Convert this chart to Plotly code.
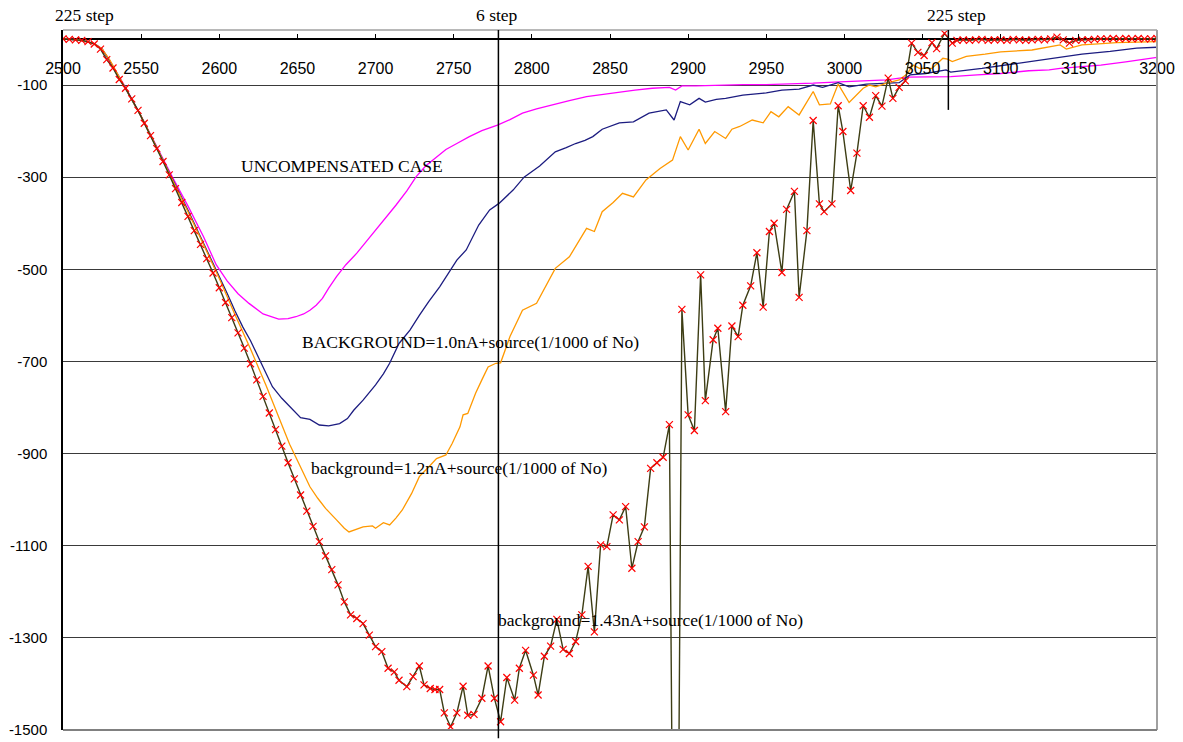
import plotly.graph_objects as go

# ---------------- data ----------------
# UNCOMPENSATED CASE (magenta)
uncomp_x = [2500, 2510, 2520, 2525, 2530, 2540, 2550, 2560, 2570, 2580, 2590, 2598, 2605, 2612,
            2619, 2628, 2638, 2644, 2649, 2654, 2658, 2662, 2666, 2670, 2675, 2681, 2688, 2694,
            2700, 2707, 2713, 2720, 2726, 2732, 2739, 2745, 2752, 2760, 2768, 2778, 2786, 2794,
            2803, 2813, 2824, 2835, 2845, 2856, 2866, 2877, 2888, 2892, 2896, 2905, 2920, 2935,
            2950, 2965, 2980, 2997, 3010, 3027, 3040, 3055, 3068, 3085, 3100, 3118, 3131, 3138,
            3152, 3164, 3180, 3190, 3200]
uncomp_y = [0, -2, -10, -22, -48, -105, -168, -235, -300, -363, -430, -490, -525, -553,
            -574, -597, -608, -607, -603, -597, -589, -578, -563, -541, -516, -490, -465, -440,
            -415, -388, -361, -330, -299, -276, -256, -240, -227, -212, -199, -187, -175, -161,
            -152, -143, -134, -125, -120, -115, -111, -107, -105, -111, -102, -102, -100, -99,
            -99, -98, -96, -93, -91, -89, -83, -82, -82, -78, -75, -69, -67, -64,
            -60, -57, -50, -45, -40]

# BACKGROUND=1.0nA (navy)
bg10_x = [2500, 2510, 2520, 2525, 2530, 2540, 2550, 2560, 2570, 2580, 2590, 2598, 2605, 2610,
          2615, 2620, 2626, 2630, 2634, 2640, 2645, 2652, 2658, 2664, 2670, 2677, 2682, 2686,
          2692, 2696, 2700, 2705, 2709, 2715, 2722, 2728, 2734, 2741, 2748, 2752, 2758, 2766,
          2773, 2779, 2788, 2795, 2805, 2815, 2822, 2828, 2834, 2839, 2845, 2850, 2856, 2865,
          2870, 2875, 2886, 2891, 2895, 2901, 2907, 2911, 2918, 2924, 2935, 2950, 2960, 2971,
          2980, 2986, 2996, 3003, 3014, 3027, 3035, 3042, 3052, 3065, 3068, 3088, 3105, 3120,
          3130, 3140, 3152, 3170, 3187, 3200]
bg10_y = [0, -2, -10, -22, -48, -107, -168, -236, -303, -372, -444, -500, -552, -590,
          -625, -655, -697, -727, -755, -780, -798, -822, -826, -838, -840, -835, -824, -806,
          -784, -768, -751, -727, -704, -661, -632, -600, -570, -538, -500, -480, -458, -404,
          -371, -357, -328, -300, -276, -245, -236, -227, -220, -212, -196, -190, -182, -180,
          -170, -161, -154, -176, -136, -143, -129, -137, -131, -129, -122, -117, -111, -109,
          -100, -105, -95, -104, -98, -96, -95, -78, -75, -67, -72, -64, -56, -49,
          -44, -38, -33, -27, -20, -18]

# background=1.2nA (orange)
bg12_x = [2500, 2510, 2520, 2525, 2530, 2540, 2550, 2560, 2570, 2580, 2590, 2600, 2610, 2620,
          2630, 2638, 2645, 2650, 2658, 2663, 2668, 2675, 2680, 2683, 2688, 2692, 2698, 2700,
          2705, 2709, 2713, 2717, 2723, 2728, 2734, 2739, 2745, 2749, 2754, 2756, 2759, 2764,
          2768, 2772, 2777, 2780, 2786, 2794, 2803, 2809, 2815, 2824, 2830, 2835, 2840, 2845,
          2852, 2858, 2865, 2873, 2882, 2890, 2895, 2900, 2907, 2911, 2917, 2924, 2928, 2933,
          2941, 2948, 2953, 2958, 2964, 2971, 2980, 2984, 2991, 2996, 3003, 3012, 3016, 3020,
          3027, 3035, 3040, 3044, 3048, 3056, 3063, 3066, 3069, 3078, 3090, 3100, 3120, 3130,
          3138, 3142, 3152, 3165, 3174, 3200]
bg12_y = [0, -2, -10, -22, -46, -106, -168, -236, -305, -375, -447, -520, -598, -673,
          -753, -820, -880, -915, -972, -997, -1019, -1044, -1062, -1070, -1064, -1059, -1057, -1062,
          -1050, -1055, -1040, -1023, -987, -950, -929, -911, -903, -878, -842, -816, -813, -769,
          -740, -712, -704, -703, -646, -589, -574, -535, -498, -473, -440, -411, -418, -375,
          -355, -335, -343, -306, -281, -263, -212, -241, -196, -227, -201, -216, -196, -190,
          -176, -182, -158, -169, -147, -165, -114, -143, -141, -98, -138, -107, -100, -104,
          -96, -89, -76, -57, -64, -64, -42, -44, -49, -38, -33, -28, -24, -18,
          -13, -22, -13, -10, -8, -6]

# background=1.43nA (olive line, red x markers)
bg143_x = [2500, 2504, 2508, 2512, 2516, 2520, 2524, 2528, 2532, 2536, 2540, 2544, 2548, 2552,
           2556, 2560, 2564, 2568, 2572, 2576, 2580, 2584, 2588, 2592, 2596, 2600, 2604, 2608,
           2612, 2616, 2620, 2624, 2628, 2632, 2636, 2640, 2644, 2648, 2652, 2656, 2660, 2664,
           2668, 2672, 2676, 2680, 2684, 2688, 2692, 2696, 2700, 2704, 2708, 2712, 2715, 2720,
           2724, 2728, 2731, 2735, 2738, 2741, 2744, 2748, 2752, 2756, 2759, 2763, 2768, 2772,
           2776, 2780, 2784, 2789, 2792, 2796, 2801, 2804, 2808, 2812, 2816, 2820, 2824, 2828,
           2832, 2836, 2840, 2844, 2848, 2852, 2856, 2860, 2864, 2868, 2872, 2876, 2880, 2884,
           2888, 2892, 2896, 2900, 2904, 2908, 2911, 2916, 2919, 2924, 2928, 2932, 2935, 2940,
           2944, 2948, 2952, 2955, 2960, 2963, 2968, 2971, 2976, 2980, 2984, 2987, 2992, 2996,
           2999, 3004, 3008, 3012, 3016, 3020, 3024, 3028, 3031, 3035, 3039, 3043, 3047, 3051,
           3056, 3059, 3064, 3069, 3072, 3076, 3080, 3084, 3088, 3092, 3096, 3100, 3104, 3108,
           3112, 3116, 3120, 3124, 3128, 3132, 3136, 3140, 3144, 3148, 3152, 3156, 3160, 3164,
           3168, 3172, 3176, 3180, 3184, 3188, 3192, 3196, 3200]
bg143_y = [0, -1, -2, -3, -6, -11, -22, -45, -63, -88, -107, -130, -155, -183,
           -210, -238, -266, -295, -325, -355, -385, -416, -446, -477, -508, -540, -572, -605,
           -638, -671, -705, -740, -776, -812, -848, -884, -920, -955, -990, -1025, -1058, -1091,
           -1122, -1152, -1185, -1222, -1250, -1258, -1269, -1294, -1319, -1330, -1366, -1374, -1392, -1406,
           -1384, -1361, -1402, -1410, -1412, -1412, -1463, -1493, -1463, -1405, -1468, -1466, -1431, -1361,
           -1431, -1482, -1386, -1435, -1366, -1327, -1381, -1424, -1340, -1318, -1260, -1325, -1334, -1308,
           -1250, -1145, -1287, -1098, -1102, -1033, -1044, -1015, -1149, -1091, -1059, -932, -920, -908,
           -837, -2600, -587, -816, -850, -512, -785, -653, -628, -809, -623, -646, -578, -536,
           -464, -582, -418, -400, -507, -370, -331, -561, -416, -177, -358, -375, -358, -145,
           -201, -329, -248, -145, -170, -123, -146, -85, -129, -105, -91, -9, -29, -36,
           -8, -21, 12, -9, -3, -2, -3, -2, -1, -3, -2, -2, -3, -1,
           -2, -3, -2, -1, -2, 0, 4, -2, -9, -3, -2, -2, -1, 0,
           0, 1, 0, 1, 0, 1, 0, 0, 1]

x_ticks = [2500, 2550, 2600, 2650, 2700, 2750, 2800, 2850, 2900, 2950, 3000, 3050, 3100, 3150, 3200]
y_ticks = [-100, -300, -500, -700, -900, -1100, -1300, -1500]

# step markers (vertical lines) and their labels
step_line_x = [2778.6, 3066.5]
step_line_bottom = [-1518, -154]
top_labels = ["225 step", "6 step", "225 step"]
top_label_pos = [0.0197, 0.3969, 0.8168]

curve_labels = ["UNCOMPENSATED CASE",
                "BACKGROUND=1.0nA+source(1/1000 of No)",
                "background=1.2nA+source(1/1000 of No)",
                "background=1.43nA+source(1/1000 of No)"]
curve_label_x = [2678.8, 2760.7, 2753.4, 2875.9]
curve_label_y = [-276, -658, -931, -1262]

X_MIN, X_MAX = 2500, 3200
Y_MIN, Y_MAX = -1500, 19.4

# ---------------- figure ----------------
fig = go.Figure()
fig.add_trace(go.Scatter(x=uncomp_x, y=uncomp_y, mode="lines",
                         line=dict(color="#FF00FF", width=1.3), hoverinfo="skip"))
fig.add_trace(go.Scatter(x=bg10_x, y=bg10_y, mode="lines",
                         line=dict(color="#1C1C80", width=1.3), hoverinfo="skip"))
fig.add_trace(go.Scatter(x=bg12_x, y=bg12_y, mode="lines",
                         line=dict(color="#FF9900", width=1.3), hoverinfo="skip"))
fig.add_trace(go.Scatter(x=bg143_x, y=bg143_y, mode="lines+markers",
                         line=dict(color="#3D3D14", width=1.4),
                         marker=dict(symbol="x-thin", size=7, color="#FF0000",
                                     line=dict(color="#FF0000", width=1.2)),
                         hoverinfo="skip"))

shapes = []
# frame: top, right, bottom in grey
shapes.append(dict(type="line", xref="paper", yref="paper", x0=0, x1=1, y0=1, y1=1,
                   line=dict(color="#A0A0A0", width=1.5)))
shapes.append(dict(type="line", xref="paper", yref="paper", x0=1, x1=1, y0=0, y1=1,
                   line=dict(color="#A0A0A0", width=2)))
shapes.append(dict(type="line", xref="paper", yref="paper", x0=0, x1=1, y0=0, y1=0,
                   line=dict(color="#808080", width=2)))
# step lines
for xv, yb in zip(step_line_x, step_line_bottom):
    shapes.append(dict(type="line", xref="paper", yref="paper",
                       x0=(xv - X_MIN) / (X_MAX - X_MIN), x1=(xv - X_MIN) / (X_MAX - X_MIN),
                       y0=(yb - Y_MIN) / (Y_MAX - Y_MIN), y1=1,
                       line=dict(color="black", width=1.5)))

annotations = []
for t, px in zip(top_labels, top_label_pos):
    annotations.append(dict(text=t, xref="paper", yref="paper", x=px, y=1, yshift=15,
                            xanchor="center", yanchor="middle", showarrow=False,
                            font=dict(family="Liberation Serif", size=17.5, color="black")))
for t, xv, yv in zip(curve_labels, curve_label_x, curve_label_y):
    annotations.append(dict(text=t, x=xv, y=yv, xref="x", yref="y",
                            xanchor="center", yanchor="middle", showarrow=False,
                            font=dict(family="Liberation Serif", size=17.5, color="black")))

fig.update_layout(
    width=1183, height=742,
    margin=dict(l=63, r=26, t=30, b=12, pad=0),
    paper_bgcolor="white", plot_bgcolor="white",
    showlegend=False,
    shapes=shapes, annotations=annotations,
    xaxis=dict(range=[X_MIN, X_MAX], tickvals=x_ticks, ticktext=[str(v) for v in x_ticks],
               anchor="free", position=(0 - Y_MIN) / (Y_MAX - Y_MIN), side="bottom",
               ticks="inside", ticklen=5, tickwidth=1.3, tickcolor="black",
               showgrid=False, zeroline=False, showline=False, automargin=False,
               tickfont=dict(family="Liberation Sans", size=16, color="black"),
               ticklabelstandoff=18),
    yaxis=dict(range=[Y_MIN, Y_MAX], tickvals=y_ticks, ticktext=[str(v) for v in y_ticks],
               showgrid=True, gridcolor="#3A3A3A", gridwidth=1.2,
               zeroline=True, zerolinecolor="black", zerolinewidth=1.5,
               showline=True, linecolor="black", linewidth=1.5, ticks="", automargin=False,
               tickfont=dict(family="Liberation Sans", size=15, color="black"),
               ticklabelstandoff=11),
)

# remove the default 8px page margin so the figure fills the window exactly
fig.write_html("out.html", config={"displayModeBar": False},
               post_script="document.body.style.margin='0';")
